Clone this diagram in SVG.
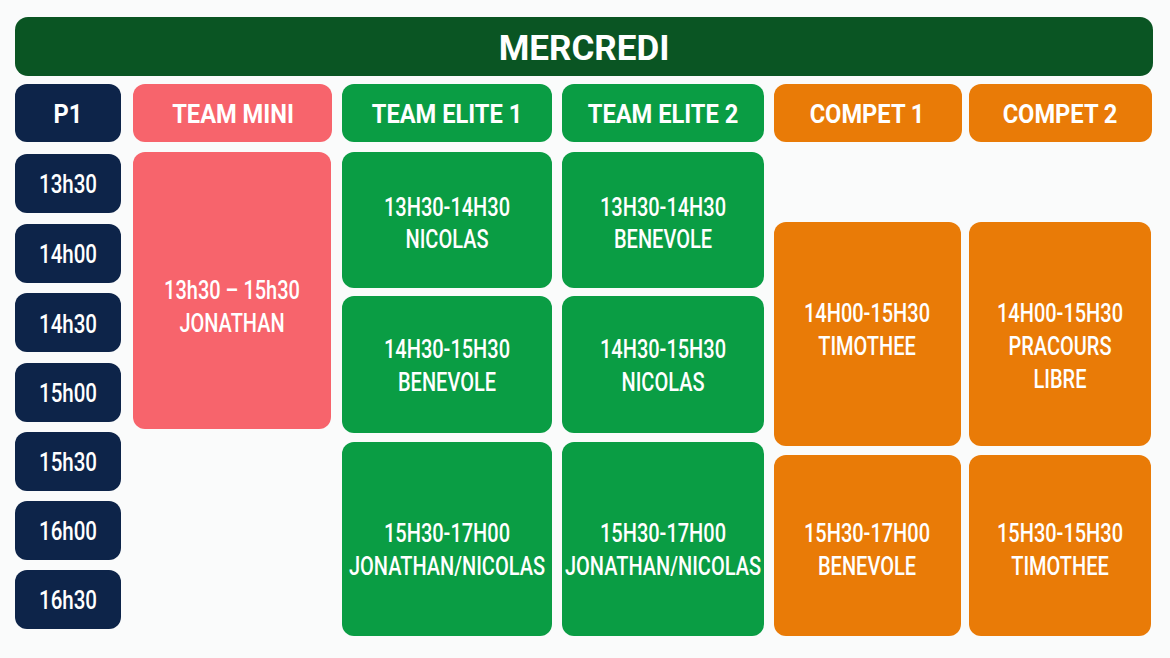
<svg xmlns="http://www.w3.org/2000/svg" width="1170" height="658" viewBox="0 0 1170 658">
<style>
.t{font-family:Roboto,"Liberation Sans",sans-serif;fill:#fff;text-anchor:middle}
.title{font-size:35px;font-weight:700}
.hd{font-size:26px;font-weight:700}
.tm{font-size:26px;font-weight:500}
.bk{font-size:25px;font-weight:500}
.navy{fill:#0d2449}.coral{fill:#f7646c}.green{fill:#0a9d44}.orange{fill:#e97b07}.dark{fill:#0a5523}
</style>
<rect width="1170" height="658" fill="#fafbfb"/>
<g id="title"><rect class="dark" x="15" y="17" width="1138" height="59" rx="13"/><text class="t title" x="584" y="59.5">MERCREDI</text></g>
<g id="h-p1"><rect class="navy" x="15" y="84" width="106" height="58" rx="12"/><text class="t hd" transform="matrix(0.91 0 0 1 68 0)" x="0" y="123">P1</text></g>
<g id="h-mini"><rect class="coral" x="133" y="84" width="199" height="58" rx="12"/><text class="t hd" transform="matrix(0.91 0 0 1 233 0)" x="0" y="123">TEAM MINI</text></g>
<g id="h-elite1"><rect class="green" x="342" y="84" width="210" height="58" rx="12"/><text class="t hd" transform="matrix(0.91 0 0 1 447 0)" x="0" y="123">TEAM ELITE 1</text></g>
<g id="h-elite2"><rect class="green" x="562" y="84" width="202" height="58" rx="12"/><text class="t hd" transform="matrix(0.91 0 0 1 663 0)" x="0" y="123">TEAM ELITE 2</text></g>
<g id="h-compet1"><rect class="orange" x="774" y="84" width="188" height="58" rx="12"/><text class="t hd" transform="matrix(0.91 0 0 1 867 0)" x="0" y="123">COMPET 1</text></g>
<g id="h-compet2"><rect class="orange" x="969" y="84" width="183" height="58" rx="12"/><text class="t hd" transform="matrix(0.91 0 0 1 1060 0)" x="0" y="123">COMPET 2</text></g>
<g id="t1330"><rect class="navy" x="15" y="154" width="106" height="59" rx="12"/><text class="t tm" transform="matrix(0.79 0 0 1 68 0)" x="0" y="193">13h30</text></g>
<g id="t1400"><rect class="navy" x="15" y="224" width="106" height="59" rx="12"/><text class="t tm" transform="matrix(0.79 0 0 1 68 0)" x="0" y="263">14h00</text></g>
<g id="t1430"><rect class="navy" x="15" y="293" width="106" height="59" rx="12"/><text class="t tm" transform="matrix(0.79 0 0 1 68 0)" x="0" y="333">14h30</text></g>
<g id="t1500"><rect class="navy" x="15" y="363" width="106" height="59" rx="12"/><text class="t tm" transform="matrix(0.79 0 0 1 68 0)" x="0" y="402">15h00</text></g>
<g id="t1530"><rect class="navy" x="15" y="432" width="106" height="59" rx="12"/><text class="t tm" transform="matrix(0.79 0 0 1 68 0)" x="0" y="471">15h30</text></g>
<g id="t1600"><rect class="navy" x="15" y="501" width="106" height="59" rx="12"/><text class="t tm" transform="matrix(0.79 0 0 1 68 0)" x="0" y="540">16h00</text></g>
<g id="t1630"><rect class="navy" x="15" y="570" width="106" height="59" rx="12"/><text class="t tm" transform="matrix(0.79 0 0 1 68 0)" x="0" y="609">16h30</text></g>
<g id="mini"><rect class="coral" x="133" y="152" width="198" height="277" rx="12"/><text class="t bk" transform="matrix(0.8 0 0 1 232 0)" x="0" y="299">13h30 – 15h30</text><text class="t bk" transform="matrix(0.8 0 0 1 232 0)" x="0" y="332">JONATHAN</text></g>
<g id="e1a"><rect class="green" x="342" y="152" width="210" height="136" rx="12"/><text class="t bk" transform="matrix(0.8 0 0 1 447 0)" x="0" y="216">13H30-14H30</text><text class="t bk" transform="matrix(0.8 0 0 1 447 0)" x="0" y="248">NICOLAS</text></g>
<g id="e2a"><rect class="green" x="562" y="152" width="202" height="136" rx="12"/><text class="t bk" transform="matrix(0.8 0 0 1 663 0)" x="0" y="216">13H30-14H30</text><text class="t bk" transform="matrix(0.8 0 0 1 663 0)" x="0" y="248">BENEVOLE</text></g>
<g id="e1b"><rect class="green" x="342" y="296" width="210" height="137" rx="12"/><text class="t bk" transform="matrix(0.8 0 0 1 447 0)" x="0" y="358">14H30-15H30</text><text class="t bk" transform="matrix(0.8 0 0 1 447 0)" x="0" y="391">BENEVOLE</text></g>
<g id="e2b"><rect class="green" x="562" y="296" width="202" height="137" rx="12"/><text class="t bk" transform="matrix(0.8 0 0 1 663 0)" x="0" y="358">14H30-15H30</text><text class="t bk" transform="matrix(0.8 0 0 1 663 0)" x="0" y="391">NICOLAS</text></g>
<g id="e1c"><rect class="green" x="342" y="442" width="210" height="194" rx="12"/><text class="t bk" transform="matrix(0.8 0 0 1 447 0)" x="0" y="542">15H30-17H00</text><text class="t bk" transform="matrix(0.8 0 0 1 447 0)" x="0" y="575">JONATHAN/NICOLAS</text></g>
<g id="e2c"><rect class="green" x="562" y="442" width="202" height="194" rx="12"/><text class="t bk" transform="matrix(0.8 0 0 1 663 0)" x="0" y="542">15H30-17H00</text><text class="t bk" transform="matrix(0.8 0 0 1 663 0)" x="0" y="575">JONATHAN/NICOLAS</text></g>
<g id="c1a"><rect class="orange" x="774" y="222" width="187" height="224" rx="12"/><text class="t bk" transform="matrix(0.8 0 0 1 867 0)" x="0" y="322">14H00-15H30</text><text class="t bk" transform="matrix(0.8 0 0 1 867 0)" x="0" y="355">TIMOTHEE</text></g>
<g id="c2a"><rect class="orange" x="969" y="222" width="182" height="224" rx="12"/><text class="t bk" transform="matrix(0.8 0 0 1 1060 0)" x="0" y="322">14H00-15H30</text><text class="t bk" transform="matrix(0.8 0 0 1 1060 0)" x="0" y="355">PRACOURS</text><text class="t bk" transform="matrix(0.8 0 0 1 1060 0)" x="0" y="388">LIBRE</text></g>
<g id="c1b"><rect class="orange" x="774" y="455" width="187" height="181" rx="12"/><text class="t bk" transform="matrix(0.8 0 0 1 867 0)" x="0" y="542">15H30-17H00</text><text class="t bk" transform="matrix(0.8 0 0 1 867 0)" x="0" y="575">BENEVOLE</text></g>
<g id="c2b"><rect class="orange" x="969" y="455" width="182" height="181" rx="12"/><text class="t bk" transform="matrix(0.8 0 0 1 1060 0)" x="0" y="542">15H30-15H30</text><text class="t bk" transform="matrix(0.8 0 0 1 1060 0)" x="0" y="575">TIMOTHEE</text></g>
<g id="connectors"/>
</svg>
